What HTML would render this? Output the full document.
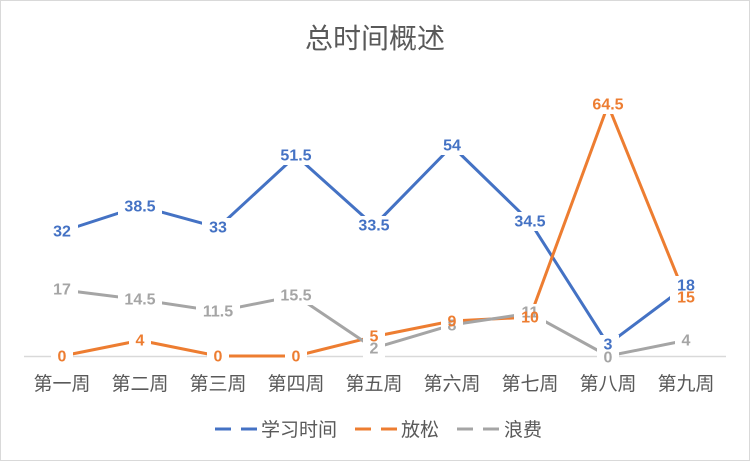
<!DOCTYPE html>
<html><head><meta charset="utf-8"><style>
html,body{margin:0;padding:0;background:#fff;}
svg{display:block;font-family:"Liberation Sans","Noto Sans CJK SC",sans-serif;}
</style></head><body>
<svg width="750" height="461" viewBox="0 0 750 461">
<rect x="0.5" y="0.5" width="749" height="460" fill="#fff" stroke="#d9d9d9"/>
<text x="375" y="48" text-anchor="middle" font-size="28" fill="#595959">总时间概述</text>
<line x1="24" y1="356.5" x2="726" y2="356.5" stroke="#d9d9d9" stroke-width="1.5"/>
<g fill="none" stroke-width="3" stroke-linejoin="round">
<polyline stroke="#4472C4" points="62,231.5 140,206.2 218,227.6 296,155.7 374,225.7 452,146 530,221.8 608,344.3 686,286"/>
<polyline stroke="#ED7D31" points="62,356 140,340.4 218,356 296,356 374,336.6 452,321 530,317.1 608,105 686,297.7"/>
<polyline stroke="#A5A5A5" points="62,289.9 140,299.6 218,311.3 296,295.7 374,348.2 452,324.9 530,313.2 608,356 686,340.4"/>
</g>
<g fill="#fff">
<rect x="46" y="222" width="32" height="19"/><rect x="118" y="197" width="44" height="19"/><rect x="202" y="218" width="32" height="19"/><rect x="274" y="146" width="44" height="19"/><rect x="352" y="216" width="44" height="19"/><rect x="436" y="136" width="32" height="19"/><rect x="508" y="212" width="44" height="19"/><rect x="597" y="335" width="22" height="19"/><rect x="670" y="276" width="32" height="19"/>
<rect x="51" y="347" width="22" height="19"/><rect x="129" y="331" width="22" height="19"/><rect x="207" y="347" width="22" height="19"/><rect x="285" y="347" width="22" height="19"/><rect x="363" y="327" width="22" height="19"/><rect x="441" y="312" width="22" height="19"/><rect x="514" y="308" width="32" height="19"/><rect x="586" y="95" width="44" height="19"/><rect x="670" y="288" width="32" height="19"/>
<rect x="46" y="280" width="32" height="19"/><rect x="118" y="290" width="44" height="19"/><rect x="196" y="302" width="44" height="19"/><rect x="274" y="286" width="44" height="19"/><rect x="363" y="339" width="22" height="19"/><rect x="441" y="315" width="22" height="19"/><rect x="514" y="304" width="32" height="19"/><rect x="597" y="347" width="22" height="19"/><rect x="675" y="331" width="22" height="19"/>
</g>
<g font-size="16" font-weight="bold" text-anchor="middle" dominant-baseline="central">
<g fill="#A5A5A5">
<text x="62" y="290">17</text><text x="140" y="300">14.5</text><text x="218" y="312">11.5</text><text x="296" y="296">15.5</text><text x="374" y="349">2</text><text x="452" y="326">8</text><text x="530" y="313">11</text><text x="608" y="358">0</text><text x="686" y="341">4</text>
</g>
<g fill="#ED7D31">
<text x="62" y="357">0</text><text x="140" y="341">4</text><text x="218" y="357">0</text><text x="296" y="357">0</text><text x="374" y="337">5</text><text x="452" y="322">9</text><text x="530" y="318">10</text><text x="608" y="105">64.5</text><text x="686" y="298">15</text>
</g>
<g fill="#4472C4">
<text x="62" y="232">32</text><text x="140" y="207">38.5</text><text x="218" y="228">33</text><text x="296" y="156">51.5</text><text x="374" y="226">33.5</text><text x="452" y="146">54</text><text x="530" y="222">34.5</text><text x="608" y="345">3</text><text x="686" y="286">18</text>
</g>
</g>
<g font-size="19" fill="#595959" text-anchor="middle">
<text x="62" y="390">第一周</text><text x="140" y="390">第二周</text><text x="218" y="390">第三周</text><text x="296" y="390">第四周</text><text x="374" y="390">第五周</text><text x="452" y="390">第六周</text><text x="530" y="390">第七周</text><text x="608" y="390">第八周</text><text x="686" y="390">第九周</text>
</g>
<g stroke-width="3" stroke-dasharray="16,10">
<line x1="215" y1="429" x2="258" y2="429" stroke="#4472C4"/>
<line x1="355" y1="429" x2="398" y2="429" stroke="#ED7D31"/>
<line x1="457" y1="429" x2="500" y2="429" stroke="#A5A5A5"/>
</g>
<g font-size="19" fill="#595959">
<text x="261" y="436">学习时间</text><text x="401" y="436">放松</text><text x="504" y="436">浪费</text>
</g>
</svg>
</body></html>
